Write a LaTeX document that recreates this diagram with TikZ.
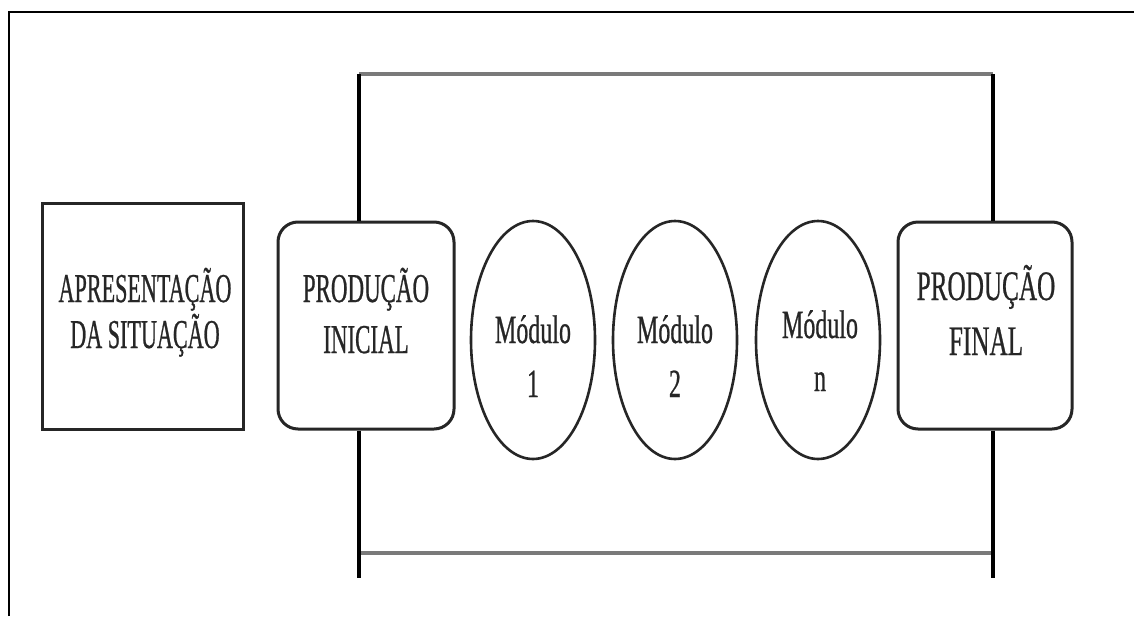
\documentclass[tikz,border=0pt]{standalone}
\usepackage{fontspec}
\usetikzlibrary{shapes.geometric}
\newfontfamily\lblA[FakeStretch=0.54,FakeBold=0.6]{Liberation Serif}
\newfontfamily\lblB[FakeStretch=0.56,FakeBold=0.6]{Liberation Serif}
\newfontfamily\lblC[FakeStretch=0.60,FakeBold=0.6]{Liberation Serif}
\definecolor{ink}{HTML}{262626}
\definecolor{bar}{HTML}{7A7A7A}
\tikzset{
  boxshape/.style={draw=ink, line width=3pt, inner sep=0pt},
  roundbox/.style={boxshape, rounded corners=20pt},
  modshape/.style={draw=ink, line width=2.6pt, ellipse, inner sep=0pt, minimum width=124pt, minimum height=238pt},
  txt/.style={text=ink, align=center, inner sep=0pt, anchor=base},
  vline/.style={draw=black, line width=3.2pt},
  hline/.style={draw=bar, line width=3.8pt},
  frame/.style={draw=black, line width=2.2pt}
}
\begin{document}
\begin{tikzpicture}[x=1pt,y=-1pt]
\useasboundingbox (0,0) rectangle (1134,616);
\fill[white] (0,0) rectangle (1134,616);
% outer frame
\coordinate (fa) at (9,616);
\coordinate (fb) at (9,12);
\coordinate (fc) at (1134,12);
\draw[frame] (fa) -- (fb) -- (fc);
% shapes
\node[boxshape, minimum width=201pt, minimum height=226pt] (b0) at (142.5,316) {};
\node[roundbox, minimum width=176pt, minimum height=207pt] (b1) at (366,325.5) {};
\node[modshape] (e1) at (533,340) {};
\node[modshape] (e2) at (675,340) {};
\node[modshape] (e3) at (818,340) {};
\node[roundbox, minimum width=174pt, minimum height=207pt] (b2) at (985,325.5) {};
% texts (anchor = baseline of the last line)
\node[txt, font=\lblA\fontsize{41}{46}\selectfont] (t0) at (145,348) {APRESENTAÇÃO\\DA SITUAÇÃO};
\node[txt, font=\lblB\fontsize{41}{51}\selectfont] (t1) at (366,353) {PRODUÇÃO\\INICIAL};
\node[txt, font=\lblC\fontsize{40}{54}\selectfont] (t2) at (533,397) {Módulo\\1};
\node[txt, font=\lblC\fontsize{40}{54}\selectfont] (t3) at (675,397) {Módulo\\2};
\node[txt, font=\lblC\fontsize{40}{53}\selectfont] (t4) at (820,391) {Módulo\\n};
\node[txt, font=\lblC\fontsize{42}{55}\selectfont] (t5) at (986,355) {PRODUÇÃO\\FINAL};
% connectors
\coordinate (tl) at (359,74);
\coordinate (tr) at (993,74);
\coordinate (ml) at (359,553);
\coordinate (mr) at (993,553);
\coordinate (bl) at (359,578);
\coordinate (br) at (993,578);
\draw[hline] (tl) -- (tr);
\draw[hline] (ml) -- (mr);
\draw[vline] (b1.north -| tl) -- (tl);
\draw[vline] (b2.north -| tr) -- (tr);
\draw[vline] (b1.south -| bl) -- (bl);
\draw[vline] (b2.south -| br) -- (br);
\end{tikzpicture}
\end{document}
